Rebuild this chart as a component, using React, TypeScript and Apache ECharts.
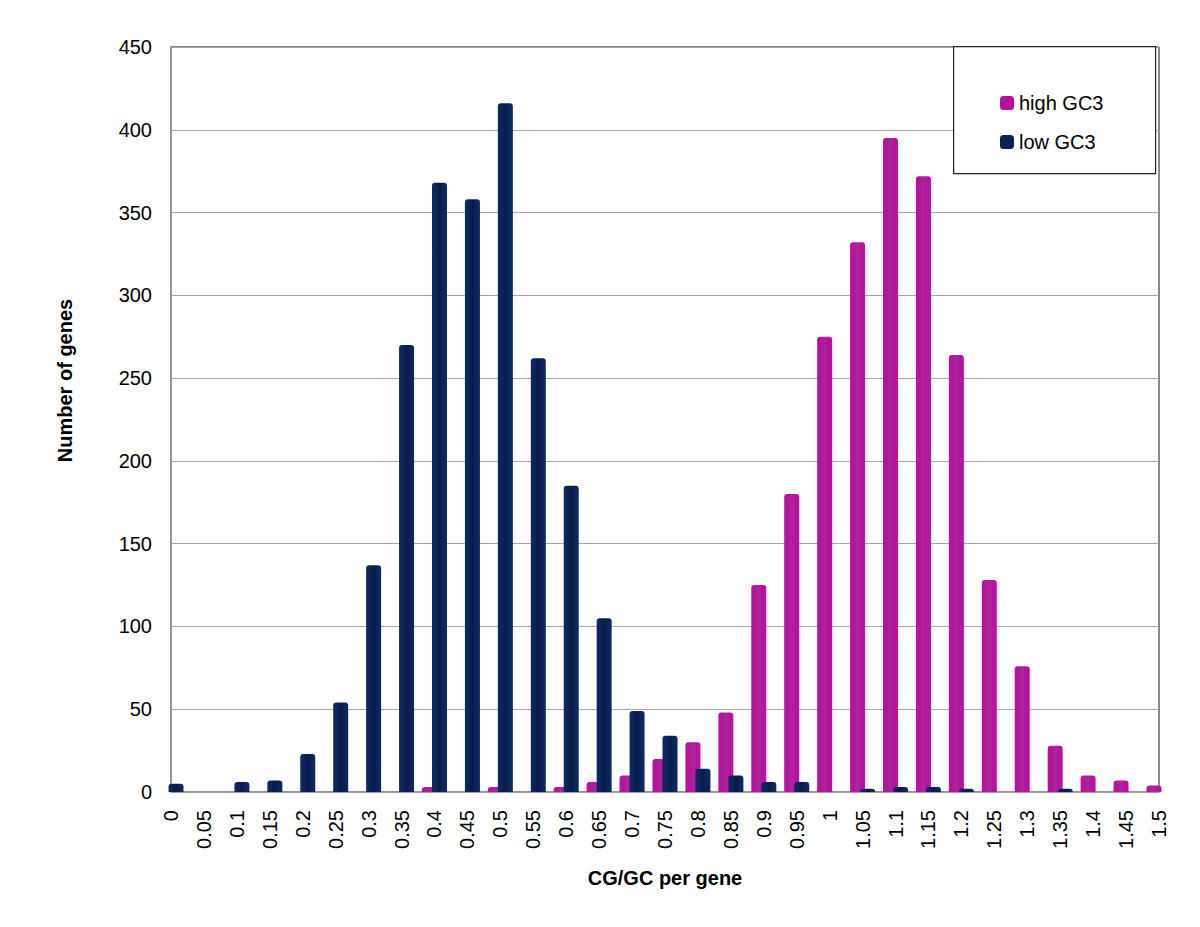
import React, { useEffect, useRef } from "react";
import * as echarts from "echarts";

const categories = [
  "0", "0.05", "0.1", "0.15", "0.2", "0.25", "0.3", "0.35", "0.4", "0.45",
  "0.5", "0.55", "0.6", "0.65", "0.7", "0.75", "0.8", "0.85", "0.9", "0.95",
  "1", "1.05", "1.1", "1.15", "1.2", "1.25", "1.3", "1.35", "1.4", "1.45", "1.5",
];

const highGC3 = [
  0, 0, 0, 0, 0, 0, 0, 0, 3, 0,
  3, 0, 3, 6, 10, 20, 30, 48, 125, 180,
  275, 332, 395, 372, 264, 128, 76, 28, 10, 7, 4,
];

const lowGC3 = [
  5, 0, 6, 7, 23, 54, 137, 270, 368, 358,
  416, 262, 185, 105, 49, 34, 14, 10, 6, 6,
  0, 2, 3, 3, 2, 0, 0, 2, 0, 0, 0,
];

const yTicks = { min: 0, max: 450, interval: 50 };

const FONT = "'Liberation Sans', Arial, sans-serif";

function stripe(edge: string, mid: string, dark: string) {
  return new echarts.graphic.LinearGradient(0, 0, 1, 0, [
    { offset: 0, color: edge },
    { offset: 0.3, color: mid },
    { offset: 0.5, color: dark },
    { offset: 0.7, color: mid },
    { offset: 1, color: edge },
  ]);
}

export default function App() {
  const ref = useRef<HTMLDivElement>(null);
  useEffect(() => {
    if (!ref.current) return;
    const chart = echarts.init(ref.current, undefined, { renderer: "svg" });
    const toPairs = (vals: number[]) => categories.map((c, i) => [parseFloat(c), vals[i]]);
    chart.setOption({
      animation: false,
      backgroundColor: "#ffffff",
      grid: {
        left: 171,
        right: 41,
        top: 47,
        bottom: 135,
        show: true,
        borderColor: "#111111",
        borderWidth: 1,
      },
      graphic: [
        {
          type: "rect",
          left: 953,
          top: 46,
          shape: { width: 202, height: 127 },
          style: { fill: "#ffffff", stroke: "#222222", lineWidth: 1.2 },
          z: 100,
        },
      ],
      legend: {
        orient: "vertical",
        left: 1000,
        top: 93,
        padding: 0,
        itemWidth: 14,
        itemHeight: 14,
        itemGap: 19,
        icon: "roundRect",
        z: 101,
        textStyle: { fontFamily: FONT, fontSize: 20, color: "#000", lineHeight: 20 },
        data: [
          { name: "high GC3", itemStyle: { color: "#b7109e" } },
          { name: "low GC3", itemStyle: { color: "#0a225a" } },
        ],
      },
      xAxis: {
        type: "value",
        min: 0,
        max: 1.5,
        interval: 0.05,
        name: "CG/GC per gene",
        nameLocation: "middle",
        nameGap: 76,
        nameTextStyle: { fontFamily: FONT, fontSize: 20, fontWeight: "bold", color: "#000" },
        axisLine: { show: true, lineStyle: { color: "#9a9a9a", width: 1.5 } },
        axisTick: { show: false },
        splitLine: { show: false },
        axisLabel: {
          rotate: 90,
          margin: 18,
          fontFamily: FONT,
          fontSize: 20,
          color: "#000",
          showMinLabel: true,
          showMaxLabel: true,
          formatter: (v: number) => String(parseFloat(v.toFixed(2))),
        },
      },
      yAxis: {
        type: "value",
        min: yTicks.min,
        max: yTicks.max,
        interval: yTicks.interval,
        name: "Number of genes",
        nameLocation: "middle",
        nameGap: 96,
        nameTextStyle: {
          fontFamily: FONT,
          fontSize: 20,
          fontWeight: "bold",
          color: "#000",
          padding: [0, 0, 0, 78],
        },
        axisLine: { show: true, lineStyle: { color: "#9a9a9a", width: 1.5 } },
        axisTick: { show: false },
        splitLine: { show: true, lineStyle: { color: "#a6a6a6", width: 1.2 } },
        axisLabel: { margin: 19, fontFamily: FONT, fontSize: 20, color: "#000" },
      },
      series: [
        {
          name: "high GC3",
          type: "bar",
          data: toPairs(highGC3),
          barWidth: 15,
          barGap: "-33%",
          clip: true,
          itemStyle: {
            color: stripe("#bd0fa2", "#b3169c", "#a52a96"),
            borderRadius: [3, 3, 0, 0],
          },
        },
        {
          name: "low GC3",
          type: "bar",
          data: toPairs(lowGC3),
          barWidth: 15,
          barGap: "-33%",
          clip: true,
          itemStyle: {
            color: stripe("#0d2966", "#0a2358", "#071a44"),
            borderRadius: [3, 3, 0, 0],
          },
        },
      ],
    });
    return () => chart.dispose();
  }, []);
  return (
    <div
      ref={ref}
      style={{ position: "fixed", left: 0, top: 0, width: 1200, height: 927 }}
    />
  );
}
